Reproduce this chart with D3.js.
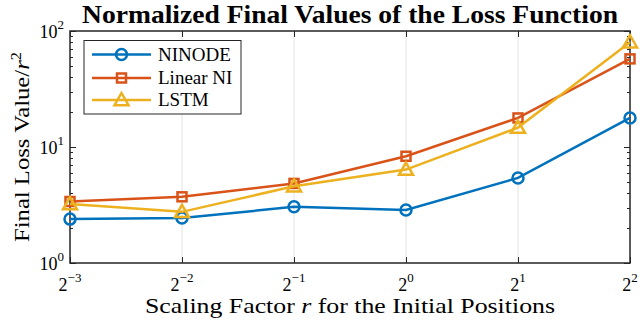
<!DOCTYPE html>
<meta charset="utf-8">
<head>
  <style>
    body { margin: 0; background: #fff; }
    svg text { font-family: "Liberation Serif", "DejaVu Serif", serif; fill: #000; }
    .title { font-weight: bold; font-size: 25px; }
    .tick-text { font-size: 18px; }
    .axis-label { font-size: 21px; }
    .legend-text { font-size: 19px; }
  </style>
  <script src="https://cdn.jsdelivr.net/npm/d3@7"></script>
</head>
<body>
  <div id="viz"></div>
</body>
<script>
// scaling factor r = 2^exp
var exps = [-3, -2, -1, 0, 1, 2];
var names = ["NINODE", "Linear NI", "LSTM"];
var ninode = [2.39, 2.44, 3.05, 2.86, 5.41, 17.8];
var linearNI = [3.39, 3.72, 4.85, 8.32, 17.8, 57.5];
var lstm = [3.22, 2.76, 4.59, 6.39, 14.7, 80];
var yTicks = [1, 10, 100];
var colors = ["#0072BD", "#D95319", "#EDB120"];
var markers = ["circle", "square", "triangle"];

var series = [ninode, linearNI, lstm];

var W = 640, H = 322;
var margin = {left: 70, right: 10, top: 31, bottom: 59};

var svg = d3.select("#viz").append("svg")
  .attr("width", W).attr("height", H);

var x = d3.scaleLog().base(2)
  .domain([Math.pow(2, -3), Math.pow(2, 2)])
  .range([margin.left, W - margin.right]);
var y = d3.scaleLog()
  .domain([1, 100])
  .range([H - margin.bottom, margin.top]);

var axisColor = "#262626";

// vertical grid
svg.selectAll(".grid")
  .data(exps.slice(1, -1))
  .enter().append("line")
    .attr("x1", function(e) { return x(Math.pow(2, e)); })
    .attr("x2", function(e) { return x(Math.pow(2, e)); })
    .attr("y1", y(1)).attr("y2", y(100))
    .attr("stroke", "#e3e3e3").attr("stroke-width", 1);

// minor y ticks
var minor = [];
[1, 10].forEach(function(d) { for (var k = 2; k < 10; k++) minor.push(d * k); });

function tickLines(vals, len) {
  var g = svg.append("g").attr("stroke", axisColor).attr("stroke-width", 1);
  vals.forEach(function(v) {
    var yy = Math.round(y(v)) + 0.5;
    g.append("line").attr("x1", x.range()[0]).attr("x2", x.range()[0] + len).attr("y1", yy).attr("y2", yy);
    g.append("line").attr("x1", x.range()[1]).attr("x2", x.range()[1] - len).attr("y1", yy).attr("y2", yy);
  });
}
tickLines(minor, 3);
tickLines(yTicks, 6);

// x ticks top and bottom
var gx = svg.append("g").attr("stroke", axisColor).attr("stroke-width", 1);
exps.forEach(function(e) {
  var xx = Math.round(x(Math.pow(2, e))) + 0.5;
  gx.append("line").attr("x1", xx).attr("x2", xx).attr("y1", y(1)).attr("y2", y(1) - 6);
  gx.append("line").attr("x1", xx).attr("x2", xx).attr("y1", y(100)).attr("y2", y(100) + 6);
});

// axes box
svg.append("rect")
  .attr("x", x.range()[0]).attr("y", y(100))
  .attr("width", x.range()[1] - x.range()[0])
  .attr("height", y(1) - y(100))
  .attr("fill", "none").attr("stroke", axisColor).attr("stroke-width", 1.5);

// x tick labels
exps.forEach(function(e) {
  var t = svg.append("text").attr("class", "tick-text")
    .attr("x", x(Math.pow(2, e))).attr("y", y(1) + 28)
    .attr("text-anchor", "middle");
  t.append("tspan").text("2");
  t.append("tspan").attr("dy", -9).style("font-size", "13px")
    .text(e < 0 ? "\u2212" + (-e) : e);
});

// y tick labels
yTicks.forEach(function(v) {
  var t = svg.append("text").attr("class", "tick-text")
    .attr("x", x.range()[0] - 6).attr("y", y(v) + 7)
    .attr("text-anchor", "end");
  t.append("tspan").text("10");
  t.append("tspan").attr("dy", -9).style("font-size", "13px").text(Math.round(Math.log10(v)));
});

// lines
var line = d3.line()
  .x(function(d, i) { return x(Math.pow(2, exps[i])); })
  .y(function(d) { return y(d); });

function drawMarker(g, type, cx, cy, color) {
  if (type == "circle") {
    g.append("circle").attr("cx", cx).attr("cy", cy).attr("r", 5.5)
      .attr("fill", "none").attr("stroke", color).attr("stroke-width", 2.5);
  } else if (type == "square") {
    g.append("rect").attr("x", cx - 4.5).attr("y", cy - 4.5).attr("width", 9).attr("height", 9)
      .attr("fill", "none").attr("stroke", color).attr("stroke-width", 2.5);
  } else {
    var s = 7;
    g.append("path")
      .attr("d", "M" + cx + "," + (cy - s) + "L" + (cx + s) + "," + (cy + s * 0.75) + "L" + (cx - s) + "," + (cy + s * 0.75) + "Z")
      .attr("fill", "none").attr("stroke", color).attr("stroke-width", 2.5)
      .attr("stroke-linejoin", "miter");
  }
}

series.forEach(function(vals, si) {
  var g = svg.append("g");
  g.append("path").datum(vals)
    .attr("d", line)
    .attr("fill", "none").attr("stroke", colors[si]).attr("stroke-width", 2.5);
  vals.forEach(function(v, i) {
    drawMarker(g, markers[si], x(Math.pow(2, exps[i])), y(v), colors[si]);
  });
});

// legend
var lg = svg.append("g");
lg.append("rect").attr("x", 84).attr("y", 40.5).attr("width", 157).attr("height", 73.5)
  .attr("fill", "#fff").attr("stroke", axisColor).attr("stroke-width", 1);
var legY = [54.5, 78, 100];
names.forEach(function(n, i) {
  lg.append("line").attr("x1", 92).attr("x2", 151).attr("y1", legY[i]).attr("y2", legY[i])
    .attr("stroke", colors[i]).attr("stroke-width", 2.5);
  drawMarker(lg, markers[i], 121.5, legY[i], colors[i]);
  lg.append("text").attr("class", "legend-text")
    .attr("x", 158).attr("y", legY[i] + 6).text(n);
});

// title
svg.append("text").attr("class", "title")
  .attr("x", (x.range()[0] + x.range()[1]) / 2).attr("y", 23)
  .attr("text-anchor", "middle")
  .attr("textLength", 536).attr("lengthAdjust", "spacingAndGlyphs")
  .text("Normalized Final Values of the Loss Function");

// x label
var xl = svg.append("text").attr("class", "axis-label")
  .attr("x", (x.range()[0] + x.range()[1]) / 2).attr("y", 313)
  .attr("text-anchor", "middle")
  .attr("textLength", 410).attr("lengthAdjust", "spacingAndGlyphs");
xl.append("tspan").text("Scaling Factor ");
xl.append("tspan").style("font-style", "italic").text("r");
xl.append("tspan").text(" for the Initial Positions");

// y label
var yl = svg.append("text").attr("class", "axis-label")
  .attr("transform", "translate(29," + ((y(1) + y(100)) / 2) + ") rotate(-90)")
  .attr("text-anchor", "middle")
  .attr("textLength", 190).attr("lengthAdjust", "spacingAndGlyphs");
yl.append("tspan").text("Final Loss Value/");
yl.append("tspan").style("font-style", "italic").text("r");
yl.append("tspan").attr("dy", -8).style("font-size", "14px").text("2");
</script>
